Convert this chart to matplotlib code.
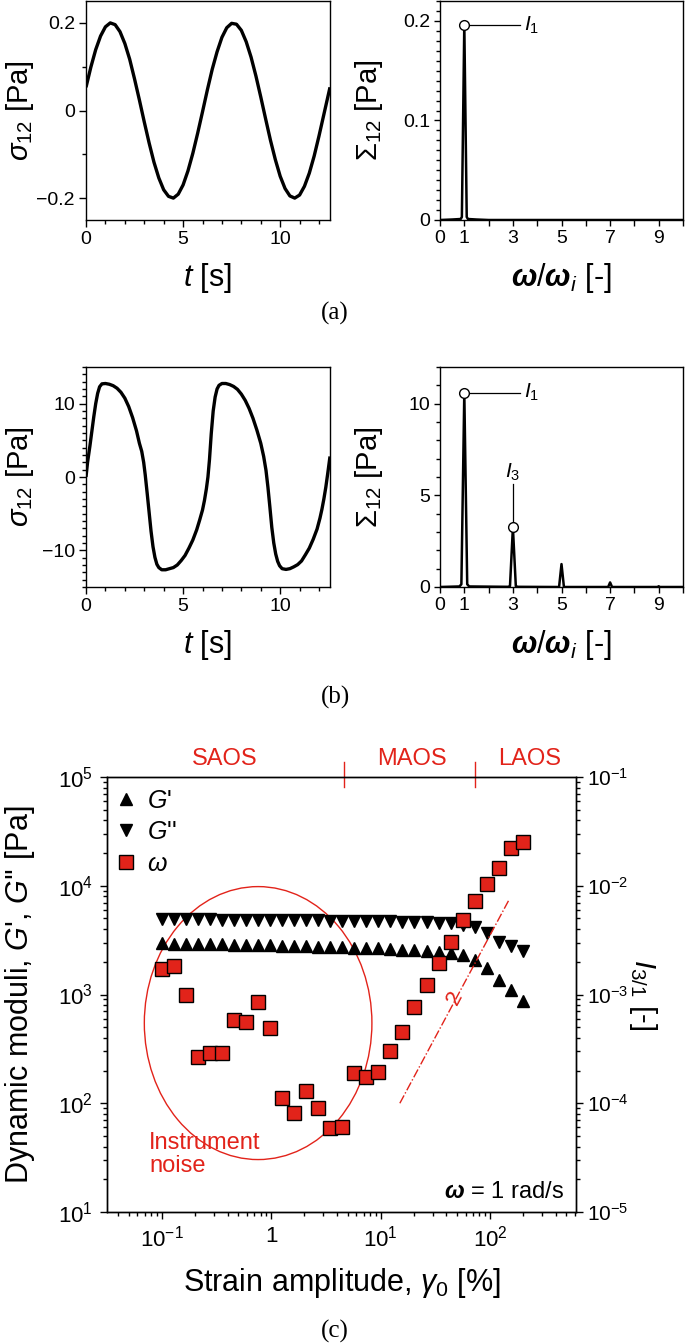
#!/usr/bin/env python3
"""LAOS figure: stress waveforms, FFT spectra and strain sweep with I3/1."""

import numpy as np
import matplotlib
matplotlib.use("Agg")
import matplotlib.pyplot as plt
import matplotlib.ticker as mticker
from matplotlib.patches import Ellipse

RED = "#e2231a"

plt.rcParams.update({
    "font.family": ["Liberation Sans", "DejaVu Sans"],
    "mathtext.fontset": "custom",
    "mathtext.rm": "Liberation Sans",
    "mathtext.it": "Liberation Sans:italic",
    "mathtext.bf": "Liberation Sans:bold:italic",
    "mathtext.fallback": "stixsans",
    "axes.linewidth": 1.0,
    "axes.unicode_minus": True,
})

# ── (a) small-amplitude waveform + spectrum ─────────────────────────────
T_A = [0.0, 0.25, 0.5, 0.75, 1.0, 1.25, 1.5, 1.75, 2.0, 2.25, 2.5, 2.75,
       3.0, 3.25, 3.5, 3.75, 4.0, 4.25, 4.5, 4.75, 5.0, 5.25, 5.5, 5.75,
       6.0, 6.25, 6.5, 6.75, 7.0, 7.25, 7.5, 7.75, 8.0, 8.25, 8.5, 8.75,
       9.0, 9.25, 9.5, 9.75, 10.0, 10.25, 10.5, 10.75, 11.0, 11.25, 11.5,
       11.75, 12.0, 12.25, 12.5, 12.566]
SIGMA_A = [0.053, 0.099, 0.139, 0.170, 0.191, 0.200, 0.196, 0.180, 0.153,
           0.117, 0.072, 0.024, -0.026, -0.074, -0.118, -0.154, -0.181,
           -0.196, -0.200, -0.191, -0.170, -0.138, -0.098, -0.052, -0.003,
           0.047, 0.094, 0.134, 0.167, 0.189, 0.199, 0.197, 0.183, 0.157,
           0.122, 0.079, 0.031, -0.019, -0.068, -0.112, -0.150, -0.178,
           -0.195, -0.200, -0.193, -0.173, -0.143, -0.104, -0.058, -0.009,
           0.040, 0.053]
FREQ_A = [0, 0.5, 0.85, 0.9, 1.0, 1.1, 1.15, 1.5, 2.0, 10.0]
SPEC_A = [0, 0.0005, 0.001, 0.003, 0.197, 0.003, 0.001, 0.0005, 0, 0]
PEAK_A1 = (1.0, 0.196)

# ── (b) large-amplitude waveform + spectrum ─────────────────────────────
T_B = [0.00, 0.08, 0.20, 0.30, 0.40, 0.50, 0.60, 0.70, 0.82, 1.00,
       1.20, 1.40, 1.60, 1.80, 2.00, 2.20, 2.40, 2.60, 2.75, 2.87,
       2.97, 3.05, 3.15, 3.25, 3.35, 3.45, 3.55, 3.65, 3.75, 3.90,
       4.10, 4.30, 4.50, 4.70, 4.90, 5.10, 5.30, 5.50, 5.70, 5.85,
       6.00, 6.10, 6.20, 6.28, 6.36, 6.45, 6.55, 6.65, 6.75, 6.85,
       7.00, 7.20, 7.40, 7.60, 7.80, 8.00, 8.20, 8.40, 8.60, 8.80,
       9.00, 9.15, 9.27, 9.37, 9.47, 9.57, 9.67, 9.77, 9.87, 9.97,
       10.10, 10.30, 10.50, 10.70, 10.90, 11.10, 11.30, 11.50, 11.70, 11.90,
       12.05, 12.15, 12.25, 12.35, 12.45, 12.566]
SIGMA_B = [0.0, 2.0, 4.2, 6.2, 8.2, 10.0, 11.4, 12.3, 12.7, 12.75,
           12.65, 12.45, 12.1, 11.55, 10.75, 9.6, 8.1, 6.3, 4.6, 3.5,
           2.0, 0.3, -2.2, -4.8, -7.4, -9.5, -10.96, -11.9, -12.35, -12.65,
           -12.65, -12.5, -12.35, -12.0, -11.4, -10.7, -9.7, -8.6, -7.2, -5.9,
           -4.5, -3.2, -1.6, 0.0, 2.4, 5.9, 9.0, 10.9, 12.0, 12.5,
           12.75, 12.75, 12.6, 12.35, 11.95, 11.3, 10.45, 9.35, 8.0, 6.4,
           4.6, 2.8, 0.9, -1.4, -4.1, -6.9, -9.0, -10.5, -11.5, -12.1,
           -12.5, -12.6, -12.5, -12.25, -11.95, -11.45, -10.6, -9.7, -8.5, -7.1,
           -5.6, -4.4, -3.0, -1.4, 0.5, 2.8]
FREQ_B = [0, 0.8, 0.88, 1.0, 1.12, 1.2, 2.8, 2.88, 3.0, 3.12, 3.2,
          4.9, 5.0, 5.1, 6.92, 7.0, 7.08, 8.95, 9.0, 9.05, 10.0]
SPEC_B = [0, 0.03, 0.15, 10.6, 0.15, 0.03, 0.01, 0.05, 3.25, 0.05, 0.01,
          0.0, 1.25, 0.0, 0.0, 0.25, 0.0, 0.0, 0.04, 0.0, 0.0]
PEAK_B1 = (1.0, 10.6)
PEAK_B3 = (3.0, 3.25)

# ── (c) strain sweep ───────────────────────────────────────────────────
STRAIN = [0.100, 0.129, 0.166, 0.214, 0.275, 0.355, 0.457, 0.589, 0.759,
          0.977, 1.26, 1.62, 2.09, 2.69, 3.47, 4.47, 5.75, 7.41, 9.55,
          12.3, 15.8, 20.4, 26.3, 33.9, 43.7, 56.2, 72.4, 93.3, 120,
          155, 200]
G_STORAGE = [2950, 2940, 2930, 2910, 2900, 2890, 2870, 2860, 2840, 2830,
             2810, 2790, 2780, 2760, 2740, 2720, 2700, 2680, 2650, 2620,
             2590, 2560, 2530, 2480, 2420, 2300, 2080, 1750, 1370, 1100, 870]
G_LOSS = [4950, 4940, 4930, 4920, 4900, 4890, 4880, 4870, 4860, 4850,
          4840, 4830, 4810, 4800, 4790, 4780, 4760, 4740, 4720, 4700,
          4680, 4650, 4620, 4580, 4520, 4400, 4150, 3650, 3050, 2800, 2500]
I31 = [1.71e-3, 1.83e-3, 0.99e-3, 2.68e-4, 2.92e-4, 2.88e-4, 5.84e-4,
       5.62e-4, 8.6e-4, 4.88e-4, 1.11e-4, 8.07e-5, 1.30e-4, 9.1e-5,
       5.87e-5, 6.08e-5, 1.88e-4, 1.75e-4, 1.95e-4, 3.02e-4, 4.55e-4,
       7.73e-4, 1.21e-3, 1.94e-3, 3.06e-3, 4.84e-3, 7.29e-3, 1.03e-2,
       1.45e-2, 2.21e-2, 2.51e-2]

REGIME_NAMES = ["SAOS", "MAOS", "LAOS"]
REGIME_LABEL_X = [0.374, 19.4, 229]
REGIME_BOUNDS = [4.6, 73.7]
SLOPE_LINE_X = [15, 150]
SLOPE_LINE_I = [1.0e-4, 7.5e-3]
NOISE_CENTER = (0.76, 546)          # strain, modulus
NOISE_HALF_DECADES = (1.04, 1.255)  # half axes in decades

XLIM_C = (0.0316, 611)
XTICKS_C = [0.1, 1, 10, 100]
XTICK_LABELS_C = [r"$10^{-1}$", "1", r"$10^{1}$", r"$10^{2}$"]
YTICKS_L = [1e1, 1e2, 1e3, 1e4, 1e5]
YTICK_LABELS_L = [r"$10^{1}$", r"$10^{2}$", r"$10^{3}$", r"$10^{4}$", r"$10^{5}$"]
YTICKS_R = [1e-5, 1e-4, 1e-3, 1e-2, 1e-1]
YTICK_LABELS_R = [r"$10^{-5}$", r"$10^{-4}$", r"$10^{-3}$", r"$10^{-2}$", r"$10^{-1}$"]

W, H = 685, 1344
fig = plt.figure(figsize=(W / 100, H / 100), dpi=100)


def add_axes_px(x0, y0, x1, y1):
    return fig.add_axes([x0 / W, 1 - y1 / H, (x1 - x0) / W, (y1 - y0) / H])


def style_ticks(ax, major, minor, size, pad):
    ax.tick_params(which="both", direction="out", top=False, right=False,
                   width=1.0, labelsize=size, pad=pad)
    ax.tick_params(which="major", length=major)
    ax.tick_params(which="minor", length=minor)


def wave_panel(ax, t, s, ylim, yticks, ylabels, yminor):
    ax.plot(t, s, color="k", lw=2.4, solid_capstyle="butt")
    ax.set_xlim(0, 12.566)
    ax.set_ylim(*ylim)
    ax.set_xticks([0, 5, 10], labels=["0", "5", "10"])
    ax.xaxis.set_minor_locator(mticker.MultipleLocator(1))
    ax.set_yticks(yticks, labels=ylabels)
    ax.yaxis.set_minor_locator(mticker.MultipleLocator(yminor))
    style_ticks(ax, 5, 3, 14, 3)
    ax.set_xlabel("$t$ [s]", fontsize=22)
    ax.set_ylabel(r"$\sigma_{\mathit{12}}$ [Pa]", fontsize=21)
    ax.xaxis.set_label_coords(0.5, -0.185)
    ax.yaxis.set_label_coords(-0.205, 0.5)


def fft_panel(ax, f, a, ylim, yticks, ylabels, yminor):
    ax.plot(f, a, color="k", lw=1.8)
    ax.set_xlim(0, 10)
    ax.set_ylim(*ylim)
    ax.set_xticks(range(11),
                  labels=["0", "1", "", "3", "", "5", "", "7", "", "9", ""])
    ax.set_yticks(yticks, labels=ylabels)
    ax.yaxis.set_minor_locator(mticker.MultipleLocator(yminor))
    style_ticks(ax, 4, 3, 14, 3)
    ax.set_xlabel(r"$\mathbf{\omega}/\mathbf{\omega}_{\mathit{i}}$ [-]", fontsize=22)
    ax.set_ylabel(r"$\Sigma_{\mathit{12}}$ [Pa]", fontsize=21)
    ax.xaxis.set_label_coords(0.5, -0.185)
    ax.yaxis.set_label_coords(-0.225, 0.5)


def mark_peak(ax, x, y):
    ax.plot([x], [y], "o", ms=7, mfc="white", mec="k", mew=1.0, zorder=5)


# (a)
ax_a1 = add_axes_px(86, 1, 330, 220)
wave_panel(ax_a1, T_A, SIGMA_A, (-0.25, 0.25), [-0.2, 0, 0.2],
           ["\u22120.2", "0", "0.2"], 0.1)
ax_a2 = add_axes_px(440, 1, 683, 220)
fft_panel(ax_a2, FREQ_A, SPEC_A, (0, 0.22), [0, 0.1, 0.2],
          ["0", "0.1", "0.2"], 0.01)
ax_a2.plot([PEAK_A1[0], 3.3], [PEAK_A1[1], PEAK_A1[1]], color="k", lw=0.9)
mark_peak(ax_a2, *PEAK_A1)
ax_a2.text(3.45, PEAK_A1[1], r"$I_{\mathit{1}}$", fontsize=15, va="center")

# (b)
ax_b1 = add_axes_px(86, 367, 330, 587)
wave_panel(ax_b1, T_B, SIGMA_B, (-15, 15), [-10, 0, 10],
           ["\u221210", "0", "10"], 1)
ax_b2 = add_axes_px(440, 367, 683, 587)
fft_panel(ax_b2, FREQ_B, SPEC_B, (0, 12), [0, 5, 10], ["0", "5", "10"], 1)
ax_b2.plot([PEAK_B1[0], 3.3], [PEAK_B1[1], PEAK_B1[1]], color="k", lw=0.9)
ax_b2.plot([PEAK_B3[0], PEAK_B3[0]], [PEAK_B3[1], 5.6], color="k", lw=0.9)
mark_peak(ax_b2, *PEAK_B1)
mark_peak(ax_b2, *PEAK_B3)
ax_b2.text(3.45, PEAK_B1[1], r"$I_{\mathit{1}}$", fontsize=15, va="center")
ax_b2.text(3.0, 5.65, r"$I_{\mathit{3}}$", fontsize=15, ha="center", va="bottom")

# panel letters
for lab, y in [("(a)", 313), ("(b)", 697), ("(c)", 1331)]:
    fig.text(335 / W, 1 - y / H, lab, family="Liberation Serif", fontsize=18,
             ha="center", va="center")

# (c)
ax = add_axes_px(107, 777, 576, 1212)
ax.set_xscale("log")
ax.set_yscale("log")
ax.set_xlim(*XLIM_C)
ax.set_ylim(1e1, 1e5)
h1, = ax.plot(STRAIN, G_STORAGE, ls="none", marker="^", ms=9, color="k",
              label="$G$'")
h2, = ax.plot(STRAIN, G_LOSS, ls="none", marker="v", ms=9, color="k",
              label="$G$''")

ax2 = ax.twinx()
ax2.set_yscale("log")
ax2.set_ylim(1e-5, 1e-1)
h3, = ax2.plot(STRAIN, I31, ls="none", marker="s", ms=9.5, mfc=RED,
               mec="k", mew=1.0, label=r"$\omega$", zorder=4)
ax2.plot(SLOPE_LINE_X, SLOPE_LINE_I, color=RED, lw=1.0, ls="-.")
ax2.text(48, 9.3e-4, "2", color=RED, fontsize=16, rotation=62,
         ha="center", va="center")

ax.set_xticks(XTICKS_C, labels=XTICK_LABELS_C)
ax.xaxis.set_minor_locator(mticker.LogLocator(base=10, subs=range(2, 10), numticks=20))
ax.xaxis.set_minor_formatter(mticker.NullFormatter())
ax.set_yticks(YTICKS_L, labels=YTICK_LABELS_L)
ax.yaxis.set_minor_locator(mticker.LogLocator(base=10, subs=range(2, 10), numticks=20))
ax.yaxis.set_minor_formatter(mticker.NullFormatter())
ax2.set_yticks(YTICKS_R, labels=YTICK_LABELS_R)
ax2.yaxis.set_minor_locator(mticker.LogLocator(base=10, subs=range(2, 10), numticks=20))
ax2.yaxis.set_minor_formatter(mticker.NullFormatter())
style_ticks(ax, 5, 3, 16, 5)
ax2.tick_params(which="both", direction="out", left=False, right=True,
                width=1.0, labelsize=15, pad=3)
ax2.tick_params(which="major", length=5)
ax2.tick_params(which="minor", length=3)

ax.set_xlabel(r"Strain amplitude, $\gamma_{\mathit{0}}$ [%]", fontsize=22)
ax.set_ylabel("Dynamic moduli, $G$', $G$'' [Pa]", fontsize=22)
ax2.set_ylabel(r"$I_{\mathit{3/1}}$ [-]", fontsize=21, rotation=270)
ax.xaxis.set_label_coords(0.5, -0.125)
ax.yaxis.set_label_coords(-0.15, 0.5)
ax2.yaxis.set_label_coords(1.178, 0.5)

# regime marks along the top spine
xt = ax.get_xaxis_transform()
for xb in REGIME_BOUNDS:
    ax.plot([xb, xb], [0.977, 1.035], color=RED, lw=1.0, transform=xt,
            clip_on=False)
for name, xl in zip(REGIME_NAMES, REGIME_LABEL_X):
    ax.text(xl, 1.041, name, color=RED, fontsize=17, ha="center",
            va="center", transform=xt)

# instrument-noise ellipse drawn in axes fraction
lx0, lx1 = np.log10(XLIM_C)
cx = (np.log10(NOISE_CENTER[0]) - lx0) / (lx1 - lx0)
cy = (np.log10(NOISE_CENTER[1]) - 1) / 4
ew = 2 * NOISE_HALF_DECADES[0] / (lx1 - lx0)
eh = 2 * NOISE_HALF_DECADES[1] / 4
ax.add_patch(Ellipse((cx, cy), ew, eh, transform=ax.transAxes, fill=False,
                     edgecolor=RED, lw=1.0))
ax.text(0.077, 34, "Instrument\nnoise", color=RED, fontsize=17, ha="left",
        va="center", linespacing=1.05)
ax.text(0.974, 0.047, r"$\mathbf{\omega}$ = 1 rad/s", fontsize=17, ha="right",
        va="center", transform=ax.transAxes)

ax2.legend([h1, h2, h3], ["$G$'", "$G$''", r"$\omega$"], loc="upper left",
           bbox_to_anchor=(-0.035, 1.025), frameon=False, fontsize=18,
           handlelength=1.0, handletextpad=0.35, labelspacing=0.3,
           borderaxespad=0.5)

fig.savefig("out.png", dpi=100)
